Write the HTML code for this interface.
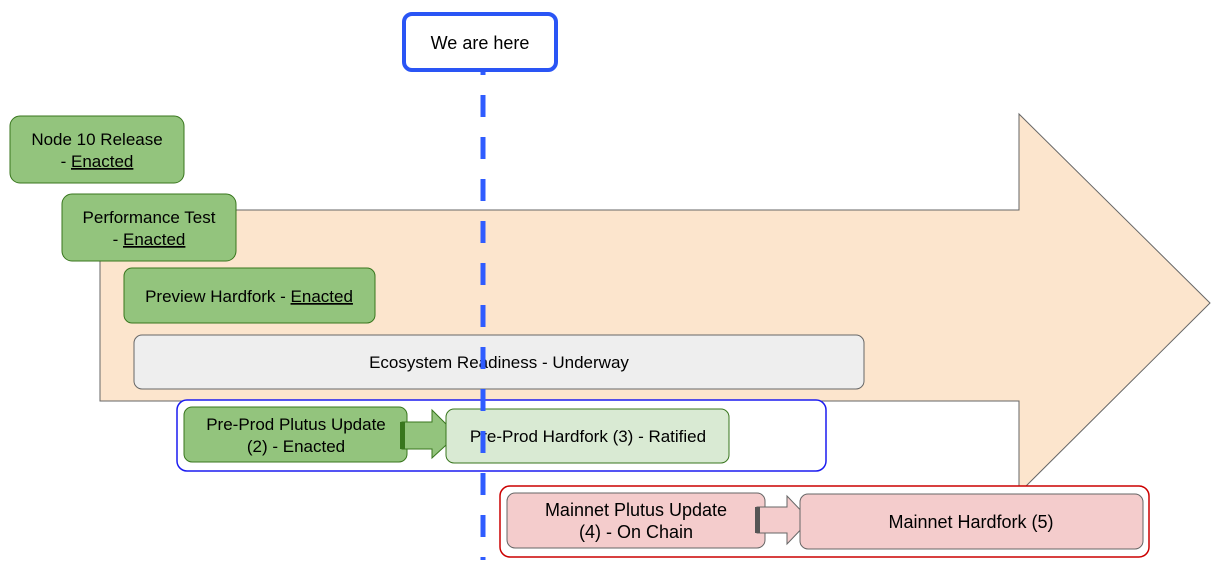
<!DOCTYPE html>
<html><head><meta charset="utf-8"><style>
html,body{margin:0;padding:0;background:#fff;width:1227px;height:582px;overflow:hidden}
text{font-family:"Liberation Sans",sans-serif;font-size:17px;fill:#000}
</style></head><body>
<svg width="1227" height="582" viewBox="0 0 1227 582" xmlns="http://www.w3.org/2000/svg">
<polygon points="100,210 1019,210 1019,114 1210,303 1019,493 1019,401 100,401" fill="#fce5cd" stroke="#666" stroke-width="1"/>
<rect x="10" y="116" width="174" height="67" rx="10" fill="#93c47d" stroke="#38761d"/>
<text x="97" y="145" text-anchor="middle">Node 10 Release</text>
<text x="97" y="167" text-anchor="middle">- <tspan text-decoration="underline">Enacted</tspan></text>
<rect x="62" y="194" width="174" height="67" rx="10" fill="#93c47d" stroke="#38761d"/>
<text x="149" y="223" text-anchor="middle">Performance Test</text>
<text x="149" y="245" text-anchor="middle">- <tspan text-decoration="underline">Enacted</tspan></text>
<rect x="124" y="268" width="251" height="55" rx="8" fill="#93c47d" stroke="#38761d"/>
<text x="249" y="302" text-anchor="middle">Preview Hardfork - <tspan text-decoration="underline">Enacted</tspan></text>
<rect x="134" y="335" width="730" height="54" rx="8" fill="#eeeeee" stroke="#666"/>
<text x="499" y="368" text-anchor="middle" style="font-size:17px">Ecosystem Readiness - Underway</text>
<rect x="177" y="400" width="649" height="71" rx="10" fill="#fff" stroke="#1c1cf0" stroke-width="1.5"/>
<rect x="184" y="407" width="223" height="55" rx="8" fill="#93c47d" stroke="#38761d"/>
<text x="296" y="430" text-anchor="middle">Pre-Prod Plutus Update</text>
<text x="296" y="452" text-anchor="middle">(2) - Enacted</text>
<polygon points="402,422 432,422 432,410 457,435 432,458 432,449 402,449" fill="#93c47d" stroke="#38761d"/>
<rect x="400" y="422" width="5" height="27" fill="#38761d"/>
<rect x="446" y="409" width="283" height="54" rx="8" fill="#d9ead3" stroke="#38761d"/>
<text x="588" y="442" text-anchor="middle">Pre-Prod Hardfork (3) - Ratified</text>
<rect x="500" y="486" width="649" height="71" rx="10" fill="#fff" stroke="#c00" stroke-width="1.5"/>
<rect x="507" y="493" width="258" height="55" rx="8" fill="#f4cccc" stroke="#666"/>
<text x="636" y="516" text-anchor="middle" style="font-size:18px">Mainnet Plutus Update</text>
<text x="636" y="538" text-anchor="middle" style="font-size:18px">(4) - On Chain</text>
<polygon points="757,507 787,507 787,496 810,520 787,544 787,533 757,533" fill="#f4cccc" stroke="#666"/>
<rect x="755" y="507" width="5" height="26" fill="#555"/>
<rect x="800" y="494" width="343" height="55" rx="8" fill="#f4cccc" stroke="#666"/>
<text x="971" y="528" text-anchor="middle" style="font-size:18px">Mainnet Hardfork (5)</text>
<line x1="483" y1="70" x2="483" y2="560" stroke="#2f5cff" stroke-width="5" stroke-dasharray="22 20" stroke-dashoffset="17"/>
<rect x="404" y="14" width="152" height="56" rx="8" fill="#fff" stroke="#2a55f5" stroke-width="4"/>
<text x="480" y="49" text-anchor="middle" style="font-size:18px">We are here</text>
</svg>
</body></html>
